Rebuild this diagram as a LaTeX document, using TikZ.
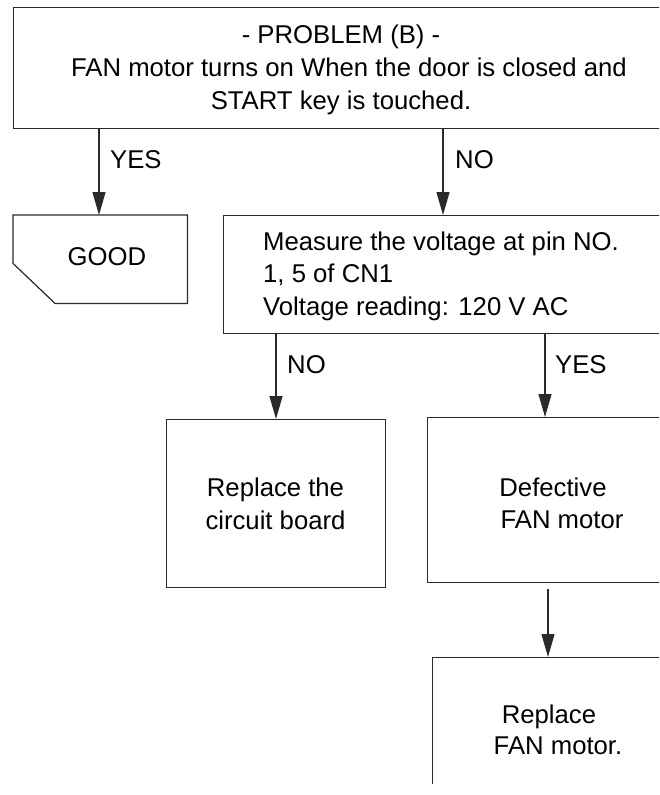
\documentclass[tikz,border=0pt]{standalone}
\usepackage{fontspec}
\setmainfont{Liberation Sans}
\usetikzlibrary{arrows.meta}
\definecolor{ln}{HTML}{2A2A2A}
\begin{document}
\begin{tikzpicture}[x=1pt,y=-1pt,
  box/.style={draw=ln,line width=1.2pt,anchor=north west,inner sep=0pt},
  plain/.style={anchor=north west,inner sep=0pt},
  arr/.style={draw=ln,line width=1.2pt,-{Triangle[length=23pt,width=13pt]}},
  txt/.style={font=\fontsize{25.7}{32.5}\selectfont,inner sep=0pt,text height=18.4pt,text depth=5.4pt},
  lbl/.style={txt,anchor=west}]
\clip (0,0) rectangle (659,795);
% top problem box
\node[box,minimum width=700pt,minimum height=121pt] (top) at (13,7) {};
\node[txt] (t1) at (341,37) {- PROBLEM (B) -};
\node[txt] (t2) at (349,70) {FAN motor turns on When the door is closed and};
\node[txt] (t3) at (341,103) {START key is touched.};
% GOOD terminal
\node[plain,minimum width=174pt,minimum height=88pt] (good) at (13,215) {};
\draw[ln,line width=1.2pt] (good.north west) -- (good.north east) -- (good.south east)
  -- ([xshift=42pt]good.south west) -- ([yshift=40pt]good.south west) -- cycle;
\node[txt] (goodt) at (107,259) {GOOD};
% measure box
\node[box,minimum width=500pt,minimum height=118pt] (meas) at (223,215) {};
\node[txt,align=left,anchor=west,text height=,text depth=] (meast) at (263,276)
  {Measure the voltage at pin NO.\\1, 5 of CN1\\Voltage reading: 120 V AC};
% replace circuit board
\node[box,minimum width=219pt,minimum height=168pt] (circ) at (166,419) {};
\node[txt,align=center,text height=,text depth=] (circt) at (275.5,504) {Replace the\\circuit board};
% defective fan motor
\node[box,minimum width=300pt,minimum height=165pt] (def) at (427,417) {};
\node[txt] (d1) at (553,490) {Defective};
\node[txt] (d2) at (562,522) {FAN motor};
% replace fan motor (open box)
\begin{scope}
\clip (0,0) rectangle (659,783);
\node[box,minimum width=300pt,minimum height=200pt] (rep) at (432,657) {};
\end{scope}
\node[txt] (r1) at (549,717) {Replace};
\node[txt] (r2) at (558,748) {FAN motor.};
% connector columns
\coordinate (c1) at (99,0);
\coordinate (c2) at (443,0);
\coordinate (c3) at (276,0);
\coordinate (c4) at (545,0);
\coordinate (c5) at (548,0);
\draw[arr] (top.south -| c1) -- (good.north -| c1);
\draw[arr] (top.south -| c2) -- (meas.north -| c2);
\draw[arr] (meas.south -| c3) -- (circ.north -| c3);
\draw[arr] (meas.south -| c4) -- (def.north -| c4);
\draw[arr] ([yshift=-6pt]def.south -| c5) -- (rep.north -| c5);
% labels
\node[lbl] (l1) at (110,162) {YES};
\node[lbl] (l2) at (455,162) {NO};
\node[lbl] (l3) at (287,367) {NO};
\node[lbl] (l4) at (555,367) {YES};
\end{tikzpicture}
\end{document}
